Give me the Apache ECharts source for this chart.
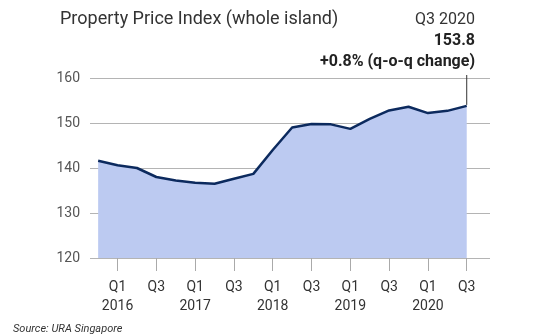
<!DOCTYPE html>
<html>
<head>
<meta charset="utf-8">
<script src="https://cdn.jsdelivr.net/npm/echarts@6/dist/echarts.min.js"></script>
<style>
  html, body { margin: 0; padding: 0; background: #fff; }
  #chart { width: 552px; height: 336px; }
</style>
</head>
<body>
<div id="chart"></div>
<script>
// Quarterly property price index, whole island
const quarters = [
  'Q4 2015',
  'Q1 2016', 'Q2 2016', 'Q3 2016', 'Q4 2016',
  'Q1 2017', 'Q2 2017', 'Q3 2017', 'Q4 2017',
  'Q1 2018', 'Q2 2018', 'Q3 2018', 'Q4 2018',
  'Q1 2019', 'Q2 2019', 'Q3 2019', 'Q4 2019',
  'Q1 2020', 'Q2 2020', 'Q3 2020'
];
const indexValues = [
  141.6,
  140.6, 140.0, 138.0, 137.2,
  136.7, 136.5, 137.6, 138.7,
  144.0, 149.0, 149.8, 149.7,
  148.7, 150.9, 152.8, 153.6,
  152.2, 152.7, 153.8
];
const yTicks = [120, 130, 140, 150, 160];
// quarters that carry an x-axis tick and label
const labelledQuarters = ['Q1 2016', 'Q3 2016', 'Q1 2017', 'Q3 2017', 'Q1 2018',
  'Q3 2018', 'Q1 2019', 'Q3 2019', 'Q1 2020', 'Q3 2020'];
// quarters whose year is written underneath
const yearStarts = ['Q1 2016', 'Q1 2017', 'Q1 2018', 'Q1 2019', 'Q1 2020'];
const headline = { period: 'Q3 2020', value: '153.8', change: '+0.8% (q-o-q change)' };

const FONT = 'Roboto, "Open Sans", sans-serif';
const lastIdx = indexValues.length - 1;
const tickIdx = labelledQuarters.map(q => quarters.indexOf(q));
const yearIdx = yearStarts.map(q => quarters.indexOf(q));
const X_MIN = -0.42, X_MAX = 20.2;

const chart = echarts.init(document.getElementById('chart'), null, { renderer: 'canvas' });

chart.setOption({
  animation: false,
  backgroundColor: '#ffffff',
  textStyle: { fontFamily: FONT },
  grid: { left: 90, right: 62, top: 78, bottom: 78 },
  title: [
    {
      text: 'Property Price Index (whole island)',
      left: 55, top: 5,
      textStyle: { fontFamily: FONT, fontSize: 18, fontWeight: 'normal', color: '#333' }
    },
    {
      text: headline.period,
      right: 72, top: 7,
      textStyle: { fontFamily: FONT, fontSize: 16, fontWeight: 'normal', color: '#333' }
    },
    {
      text: headline.value,
      right: 72, top: 28,
      textStyle: { fontFamily: FONT, fontSize: 16, fontWeight: 'bold', color: '#222' }
    },
    {
      text: headline.change,
      right: 72, top: 49,
      textStyle: { fontFamily: FONT, fontSize: 16, fontWeight: 'bold', color: '#222' }
    },
    {
      text: 'Source: URA Singapore',
      left: 8, top: 319,
      textStyle: { fontFamily: FONT, fontSize: 11, fontStyle: 'italic', fontWeight: 'normal', color: '#333' }
    }
  ],
  xAxis: [
    {
      // quarter row with tick marks
      type: 'value',
      position: 'bottom',
      min: X_MIN,
      max: X_MAX,
      axisLine: { show: false },
      splitLine: { show: false },
      axisTick: {
        show: true,
        customValues: tickIdx,
        length: 13,
        lineStyle: { color: '#aaa', width: 1 }
      },
      axisLabel: {
        show: true,
        customValues: tickIdx,
        margin: 22,
        fontFamily: FONT,
        fontSize: 14,
        color: '#333',
        verticalAlign: 'top',
        lineHeight: 14,
        formatter: v => (quarters[Math.round(v)] || '').split(' ')[0]
      }
    },
    {
      // year row beneath the Q1 labels
      type: 'value',
      position: 'bottom',
      min: X_MIN,
      max: X_MAX,
      axisLine: { show: false },
      splitLine: { show: false },
      axisTick: { show: false },
      axisLabel: {
        show: true,
        customValues: yearIdx,
        margin: 41,
        fontFamily: FONT,
        fontSize: 14,
        color: '#333',
        verticalAlign: 'top',
        lineHeight: 14,
        formatter: v => (quarters[Math.round(v)] || '').split(' ')[1]
      }
    }
  ],
  yAxis: {
    type: 'value',
    min: yTicks[0],
    max: yTicks[yTicks.length - 1],
    interval: 10,
    axisLine: { show: false },
    axisTick: { show: false },
    axisLabel: { margin: 10, fontFamily: FONT, fontSize: 14, color: '#555' },
    splitLine: { show: true, lineStyle: { color: '#b4b4b4', width: 1 } }
  },
  series: [{
    type: 'line',
    xAxisIndex: 0,
    data: indexValues.map((v, i) => [i, v]),
    symbol: 'none',
    clip: false,
    lineStyle: { color: '#0c2a5e', width: 2.5 },
    areaStyle: { color: '#bccaf1', opacity: 1 }
  }]
});

// Leader line from the latest reading up towards the headline figures
const endPt = chart.convertToPixel({ gridIndex: 0 }, [lastIdx, indexValues[lastIdx]]);
const topPt = chart.convertToPixel({ gridIndex: 0 }, [lastIdx, yTicks[yTicks.length - 1]]);
chart.setOption({
  graphic: [{
    type: 'line',
    silent: true,
    z: 10,
    shape: { x1: endPt[0], y1: endPt[1] - 1, x2: endPt[0], y2: topPt[1] - 3 },
    style: { stroke: '#333', lineWidth: 1 }
  }]
});
</script>
</body>
</html>
